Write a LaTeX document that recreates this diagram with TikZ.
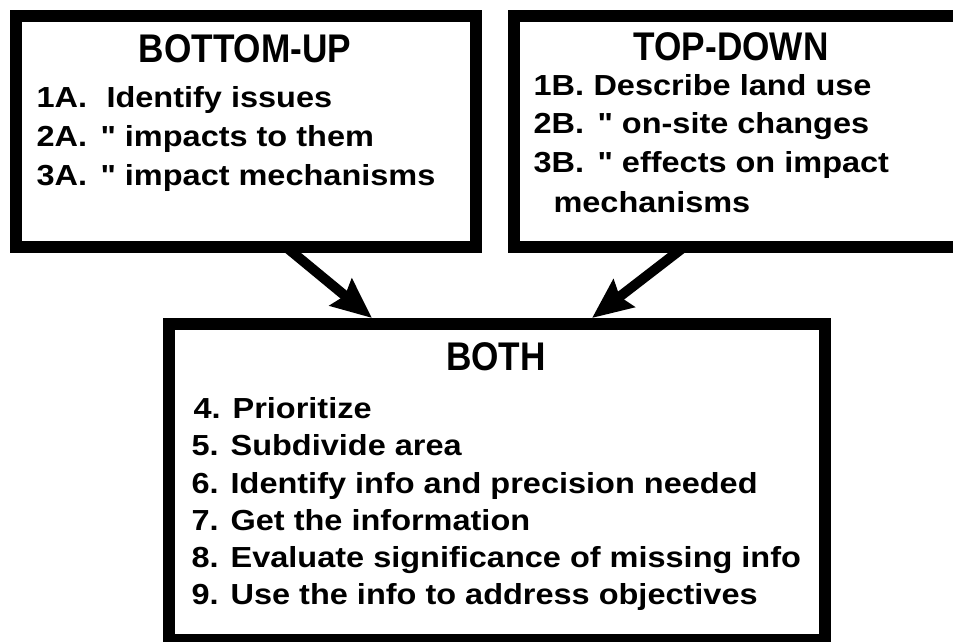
\documentclass[tikz,border=0pt]{standalone}
\usepackage{fontspec}
\usetikzlibrary{arrows.meta}
\newfontfamily\headfont{Liberation Sans}[FakeStretch=0.88]
\newfontfamily\itemfont{Liberation Sans}[FakeStretch=1.12]

\begin{document}
\begin{tikzpicture}[x=1pt,y=-1pt,
  box/.style={draw, line width=12pt, outer sep=0pt, inner sep=0pt},
  head/.style={anchor=base, font=\headfont\bfseries\fontsize{40}{48}\selectfont},
  item/.style={anchor=base west, font=\itemfont\bfseries\fontsize{29}{34}\selectfont},
  bigarrow/.style={line width=10pt, -{Stealth[length=40pt,width=34pt,inset=5pt]}}]
  \useasboundingbox (0,0) rectangle (953,641);

  % 枠
  \node[box, minimum width=460pt, minimum height=231pt] (bu) at (246,131.5) {};
  \node[box, minimum width=456pt, minimum height=231pt] (td) at (742,131.5) {};
  \node[box, minimum width=656pt, minimum height=316pt] (both) at (497,482) {};

  % 矢印
  \draw[bigarrow] ([xshift=40pt]bu.south) -- ([xshift=-125pt,yshift=6pt]both.north);
  \draw[bigarrow] ([xshift=-58pt]td.south) -- ([xshift=95pt,yshift=6pt]both.north);

  % 見出し
  \node[head] (buhead) at (245,62) {BOTTOM-UP};
  \node[head] (tdhead) at (731,60) {TOP-DOWN};
  \node[head] (bothhead) at (496,370) {BOTH};

  % 左の項目
  \node[item] (a1) at (33,107) {\makebox[70pt][l]{1A.}Identify issues};
  \node[item] (a2) at (33,146) {\makebox[64pt][l]{2A.}" impacts to them};
  \node[item] (a3) at (33,185) {\makebox[64pt][l]{3A.}" impact mechanisms};

  % 右の項目
  \node[item] (b1) at (530,95) {\makebox[60pt][l]{1B.}Describe land use};
  \node[item] (b2) at (530,133) {\makebox[64pt][l]{2B.}" on-site changes};
  \node[item] (b3) at (530,172) {\makebox[64pt][l]{3B.}" effects on impact};
  \node[item] (b4) at (550,212) {mechanisms};

  % 下の項目
  \node[item] (c4) at (190,418) {4. Prioritize};
  \node[item] (c5) at (188,455) {5. Subdivide area};
  \node[item] (c6) at (188,493) {6. Identify info and precision needed};
  \node[item] (c7) at (188,530) {7. Get the information};
  \node[item] (c8) at (188,567) {8. Evaluate significance of missing info};
  \node[item] (c9) at (188,604) {9. Use the info to address objectives};
\end{tikzpicture}
\end{document}
